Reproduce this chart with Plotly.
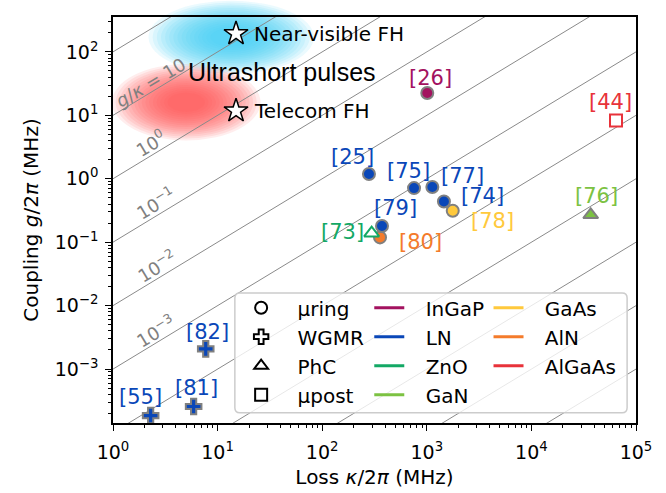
import math
import plotly.graph_objects as go

# ---------------- data ----------------
refs = ["[26]", "[44]", "[25]", "[75]", "[77]", "[74]", "[78]", "[79]", "[80]", "[73]", "[76]", "[82]", "[81]", "[55]"]
kappa_mhz = [1010, 64400, 280, 755, 1130, 1458, 1770, 373, 357, 297, 36900, 7.7, 5.9, 2.29]
g_mhz = [22.5, 8.3, 1.19, 0.713, 0.74, 0.438, 0.313, 0.18, 0.119, 0.139, 0.27, 0.00208, 0.000257, 0.000185]
materials = ["InGaP", "AlGaAs", "LN", "LN", "LN", "LN", "GaAs", "LN", "AlN", "ZnO", "GaN", "LN", "LN", "LN"]
geometries = ["μring", "μpost", "μring", "μring", "μring", "μring", "μring", "μring", "μring",
              "PhC", "PhC", "WGMR", "WGMR", "WGMR"]

fh_labels = ["Near-visible FH", "Telecom FH"]
fh_kappa = [15, 15]
fh_g = [194, 11.8]
region_label = "Ultrashort pulses"
region_kappa = 41.3
region_g = 48.8

ratio_exponents = list(range(2, -10, -1))
ratio_label_exponents = [1, 0, -1, -2, -3]
ratio_label_texts = ["<i>g</i>/<i>κ</i> = 10", "10<sup>0</sup>", "10<sup>−1</sup>",
                     "10<sup>−2</sup>", "10<sup>−3</sup>"]

geometry_names = ["μring", "WGMR", "PhC", "μpost"]
material_names = ["InGaP", "LN", "ZnO", "GaN", "GaAs", "AlN", "AlGaAs"]

x_tickvals = [1, 10, 100, 1000, 1e4, 1e5]
x_ticktext = ["10<sup>0</sup>", "10<sup>1</sup>", "10<sup>2</sup>", "10<sup>3</sup>",
              "10<sup>4</sup>", "10<sup>5</sup>"]
y_tickvals = [1e-3, 1e-2, 1e-1, 1, 10, 100]
y_ticktext = ["10<sup>−3</sup>", "10<sup>−2</sup>", "10<sup>−1</sup>", "10<sup>0</sup>",
              "10<sup>1</sup>", "10<sup>2</sup>"]

# ---------------- styles ----------------
FONT = "DejaVu Sans"
material_colors = {"InGaP": "#a3125f", "LN": "#0a47b8", "ZnO": "#13a865", "GaN": "#7cc242",
                   "GaAs": "#ffc93c", "AlN": "#f47b2b", "AlGaAs": "#e8323a"}
geometry_symbols = {"μring": "circle", "WGMR": "cross", "PhC": "triangle-up", "μpost": "square"}
geometry_sizes = {"μring": 12, "WGMR": 13, "PhC": 13, "μpost": 12}
open_materials = {"ZnO", "AlGaAs"}
label_offsets = {"[26]": (3, 15), "[44]": (-6, 18), "[25]": (-16, 17), "[75]": (-6, 17),
                 "[77]": (30, 11), "[74]": (39, 6), "[78]": (40, -10), "[79]": (13, 18),
                 "[80]": (40, -5), "[73]": (-29, 1), "[76]": (6, 19), "[82]": (2, 17),
                 "[81]": (3, 19), "[55]": (-10, 19)}
line_label_pos = [(0.36, 10), (0.36, 13), (0.41, 13), (0.42, 13), (0.41, 12)]
LEG_PAD = "\u2002\u00a0"

# soft blobs in plot-area fractions: centre x, centre y, half-width, half-height
blobs = [
    dict(cx=0.226, cy=0.950, a=0.158, b=0.090, rgb=(60, 205, 245)),
    dict(cx=0.140, cy=0.790, a=0.142, b=0.094, rgb=(255, 80, 80)),
]

fig = go.Figure()

# g/kappa = const lines
for k in ratio_exponents:
    r = 10 ** k
    fig.add_trace(go.Scatter(x=[1, 1e5], y=[r, r * 1e5], mode="lines",
                             line=dict(color="#8a8a8a", width=1), showlegend=False,
                             hoverinfo="skip"))

# data points (LN drawn last)
order = [i for i in range(len(refs)) if materials[i] != "LN"] + \
        [i for i in range(len(refs)) if materials[i] == "LN"]
for i in order:
    mat, geo = materials[i], geometries[i]
    col = material_colors[mat]
    if mat in open_materials:
        marker = dict(symbol=geometry_symbols[geo], size=geometry_sizes[geo], color="white",
                      line=dict(color=col, width=2))
    else:
        marker = dict(symbol=geometry_symbols[geo], size=geometry_sizes[geo], color=col,
                      line=dict(color="#808080", width=2))
    fig.add_trace(go.Scatter(x=[kappa_mhz[i]], y=[g_mhz[i]], mode="markers", marker=marker,
                             showlegend=False, name=refs[i]))

# FH stars
fig.add_trace(go.Scatter(x=fh_kappa, y=fh_g, mode="markers",
                         marker=dict(symbol="star", size=18, color="white",
                                     line=dict(color="black", width=1.5)),
                         showlegend=False))

# legend traces
for name in geometry_names:
    fig.add_trace(go.Scatter(x=[None], y=[None], mode="markers", name=LEG_PAD + name,
                             legend="legend",
                             marker=dict(symbol=geometry_symbols[name], size=12, color="white",
                                         line=dict(color="black", width=2))))
for j, name in enumerate(material_names):
    fig.add_trace(go.Scatter(x=[None], y=[None], mode="lines", name=LEG_PAD + name,
                             legend="legend2" if j < 4 else "legend3",
                             line=dict(color=material_colors[name], width=3)))

annotations = []
for i, ref in enumerate(refs):
    dx, dy = label_offsets[ref]
    annotations.append(dict(x=math.log10(kappa_mhz[i]), y=math.log10(g_mhz[i]), text=ref,
                            showarrow=False, xshift=dx, yshift=dy,
                            font=dict(family=FONT, size=21, color=material_colors[materials[i]])))
for (lx, ys), k, txt in zip(line_label_pos, ratio_label_exponents, ratio_label_texts):
    annotations.append(dict(x=lx, y=k + lx, text=txt, showarrow=False, textangle=-31,
                            yshift=ys, font=dict(family=FONT, size=18, color="#808080")))
for lab, kx, gy in zip(fh_labels, fh_kappa, fh_g):
    annotations.append(dict(x=math.log10(kx), y=math.log10(gy), text=lab, showarrow=False,
                            xanchor="left", xshift=16, font=dict(family=FONT, size=20, color="black")))
annotations.append(dict(x=math.log10(region_kappa), y=math.log10(region_g), text=region_label,
                        showarrow=False, font=dict(family="Liberation Sans", size=25, color="black")))

shapes = []
n = 16
for bl in blobs:
    rr, gg, bb = bl["rgb"]
    for s in range(n):
        f = 1.0 - s * 0.05
        shapes.append(dict(type="circle", xref="paper", yref="paper", layer="below",
                           x0=bl["cx"] - bl["a"] * f, x1=bl["cx"] + bl["a"] * f,
                           y0=bl["cy"] - bl["b"] * f, y1=bl["cy"] + bl["b"] * f,
                           fillcolor=f"rgba({rr},{gg},{bb},0.10)", line=dict(width=0)))

# rounded legend frame (paper fractions; corner radius ~5 px)
bx0, bx1, by0, by1 = 0.233, 0.983, 0.025, 0.32
rx, ry = 5 / 523, 5 / 406
frame_path = (f"M {bx0 + rx},{by0} L {bx1 - rx},{by0} Q {bx1},{by0} {bx1},{by0 + ry} "
              f"L {bx1},{by1 - ry} Q {bx1},{by1} {bx1 - rx},{by1} L {bx0 + rx},{by1} "
              f"Q {bx0},{by1} {bx0},{by1 - ry} L {bx0},{by0 + ry} Q {bx0},{by0} {bx0 + rx},{by0} Z")
shapes.append(dict(type="path", xref="paper", yref="paper", layer="above", path=frame_path,
                   fillcolor="rgba(255,255,255,0.8)", line=dict(color="#cccccc", width=1.5)))

minor_vals = [m * 10 ** e for e in range(-4, 6) for m in range(2, 10)]

axis_common = dict(type="log", showgrid=False, zeroline=False, showline=True, linecolor="black",
                   linewidth=1.5, mirror=True, ticks="outside", ticklen=6, tickwidth=1.3,
                   tickcolor="black", tickfont=dict(family=FONT, size=19, color="black"),
                   tickmode="array", automargin=False)

legend_common = dict(xanchor="left", yanchor="top", bgcolor="rgba(0,0,0,0)", borderwidth=0,
                     font=dict(family=FONT, size=20))

fig.update_layout(
    width=666, height=493,
    margin=dict(l=113, r=30, t=17, b=70),
    paper_bgcolor="white", plot_bgcolor="white",
    font=dict(family=FONT, size=19, color="black"),
    xaxis=dict(axis_common, range=[0, 5], tickvals=x_tickvals, ticktext=x_ticktext,
               ticklabelstandoff=5,
               minor=dict(tickvals=minor_vals, ticks="outside", ticklen=3.5, tickwidth=1,
                          tickcolor="black", showgrid=False),
               title=dict(text="Loss <i>κ</i>/2<i>π</i> (MHz)", font=dict(family=FONT, size=20),
                          standoff=8)),
    yaxis=dict(axis_common, range=[-3.85, 2.55], tickvals=y_tickvals, ticktext=y_ticktext,
               ticklabelstandoff=3,
               minor=dict(tickvals=minor_vals, ticks="outside", ticklen=3.5, tickwidth=1,
                          tickcolor="black", showgrid=False),
               title=dict(text="Coupling <i>g</i>/2<i>π</i> (MHz)", font=dict(family=FONT, size=20),
                          standoff=11)),
    legend=dict(legend_common, x=0.245, y=0.332),
    legend2=dict(legend_common, x=0.49, y=0.332),
    legend3=dict(legend_common, x=0.718, y=0.332),
    annotations=annotations,
    shapes=shapes,
)

fig.write_html("out.html", post_script="document.body.style.margin='0';",
               config={"displayModeBar": False})
